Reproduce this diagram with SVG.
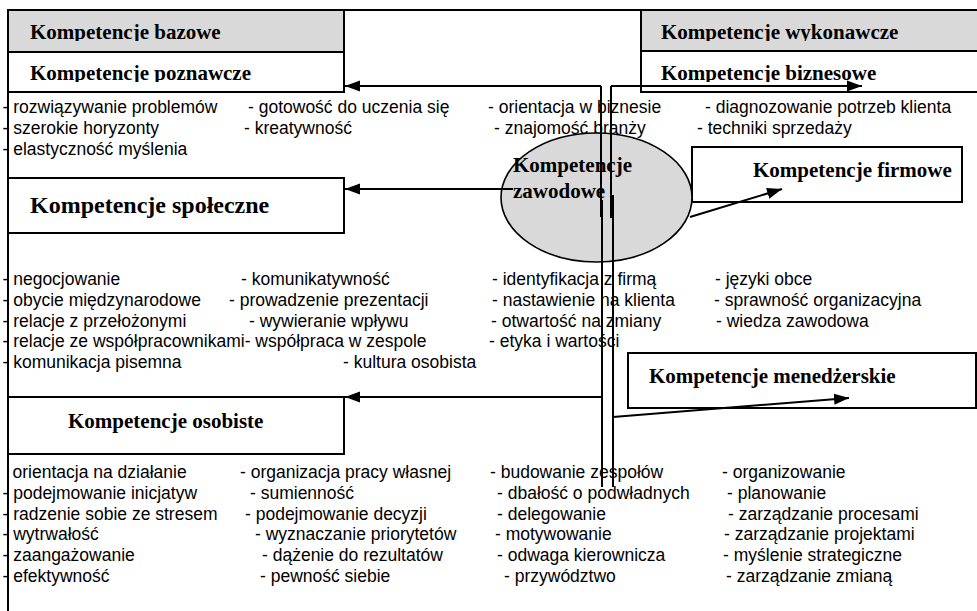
<svg xmlns="http://www.w3.org/2000/svg" width="977" height="611" viewBox="0 0 977 611">
<style>
.box{fill:#fff;stroke:#000;stroke-width:2}
.hdr{fill:#d9d9d9;stroke:#000;stroke-width:2}
.oval{fill:#d9d9d9;stroke:#000;stroke-width:1.6}
.t{font-family:"Liberation Serif","Times New Roman",serif;font-weight:bold;font-size:21px;fill:#000}
.big{font-size:24px}
.l{font-family:"Liberation Sans",Arial,sans-serif;font-size:17.5px;fill:#000}
.c{stroke:#000;stroke-width:2;fill:none}
.frame{stroke:#000;stroke-width:2;fill:none}
</style>
<defs>
<marker id="ah" markerWidth="16" markerHeight="12" refX="15" refY="6" orient="auto" markerUnits="userSpaceOnUse">
<path d="M0,0.5 L15,6 L0,11.5 z" fill="#000"/>
</marker>
<clipPath id="clipRow1"><rect x="0" y="10" width="977" height="31"/></clipPath>
<clipPath id="clipRow2"><rect x="0" y="52" width="977" height="30"/></clipPath>
</defs>
<rect width="977" height="611" fill="#fff"/>

<!-- outer frame -->
<g id="frame">
<path class="frame" d="M8,611 V10 H977"/>
</g>

<!-- left column: base competences -->
<g id="kompetencje-bazowe">
<rect class="hdr" x="8" y="10" width="336" height="42"/>
<text class="t" x="30" y="39" clip-path="url(#clipRow1)">Kompetencje bazowe</text>
</g>
<g id="kompetencje-poznawcze">
<rect class="box" x="8" y="52" width="336" height="40"/>
<text class="t" x="30" y="80" clip-path="url(#clipRow2)">Kompetencje poznawcze</text>
</g>
<g id="kompetencje-spoleczne">
<rect class="box" x="8" y="178" width="336" height="55"/>
<text class="t big" x="30" y="213">Kompetencje społeczne</text>
</g>
<g id="kompetencje-osobiste">
<rect class="box" x="8" y="397" width="336" height="57"/>
<text class="t" x="68" y="428">Kompetencje osobiste</text>
</g>

<!-- right column: performance competences -->
<g id="kompetencje-wykonawcze">
<rect class="hdr" x="641" y="10" width="345" height="41"/>
<text class="t" x="661" y="39" clip-path="url(#clipRow1)">Kompetencje wykonawcze</text>
</g>
<g id="kompetencje-biznesowe">
<rect class="box" x="641" y="51" width="345" height="41"/>
<text class="t" x="661" y="80" clip-path="url(#clipRow2)">Kompetencje biznesowe</text>
</g>
<g id="kompetencje-firmowe">
<rect class="box" x="692" y="147" width="270" height="55"/>
<text class="t" x="753" y="177">Kompetencje firmowe</text>
</g>
<g id="kompetencje-menedzerskie">
<rect class="box" x="628" y="353" width="348" height="55"/>
<text class="t" x="649" y="383">Kompetencje menedżerskie</text>
</g>

<!-- skill lists -->
<g id="lista-poznawcze" class="l">
<text x="2.5" y="112.5">- rozwiązywanie problemów</text>
<text x="248" y="112.5">- gotowość do uczenia się</text>
<text x="2.5" y="133.5">- szerokie horyzonty</text>
<text x="244" y="133.5">- kreatywność</text>
<text x="2.5" y="155">- elastyczność myślenia</text>
</g>
<g id="lista-biznesowe" class="l">
<text x="488" y="112.5">- orientacja w biznesie</text>
<text x="705" y="112.5">- diagnozowanie potrzeb klienta</text>
<text x="494" y="133.5">- znajomość branży</text>
<text x="697" y="133.5">- techniki sprzedaży</text>
</g>
<g id="lista-spoleczne" class="l">
<text x="2.5" y="285">- negocjowanie</text>
<text x="241" y="285">- komunikatywność</text>
<text x="2.5" y="306">- obycie międzynarodowe</text>
<text x="229" y="306">- prowadzenie prezentacji</text>
<text x="2.5" y="326.5">- relacje z przełożonymi</text>
<text x="249" y="326.5">- wywieranie wpływu</text>
<text x="2.5" y="347">- relacje ze współpracownikami- współpraca w zespole</text>
<text x="2.5" y="368">- komunikacja pisemna</text>
<text x="343" y="368">- kultura osobista</text>
</g>
<g id="lista-firmowe" class="l">
<text x="492" y="285">- identyfikacja z firmą</text>
<text x="715" y="285">- języki obce</text>
<text x="492" y="306">- nastawienie na klienta</text>
<text x="714" y="306">- sprawność organizacyjna</text>
<text x="491" y="326.5">- otwartość na zmiany</text>
<text x="716" y="326.5">- wiedza zawodowa</text>
<text x="489" y="347">- etyka i wartości</text>
</g>
<g id="lista-osobiste" class="l">
<text x="12.5" y="477.5">orientacja na działanie</text>
<text x="240" y="477.5">- organizacja pracy własnej</text>
<text x="2.5" y="498.5">- podejmowanie inicjatyw</text>
<text x="250" y="498.5">- sumienność</text>
<text x="2.5" y="519.5">- radzenie sobie ze stresem</text>
<text x="245" y="519.5">- podejmowanie decyzji</text>
<text x="2.5" y="540">- wytrwałość</text>
<text x="255" y="540">- wyznaczanie priorytetów</text>
<text x="2.5" y="560.5">- zaangażowanie</text>
<text x="262" y="560.5">- dążenie do rezultatów</text>
<text x="2.5" y="581.5">- efektywność</text>
<text x="260" y="581.5">- pewność siebie</text>
</g>
<g id="lista-menedzerskie" class="l">
<text x="490" y="477.5">- budowanie zespołów</text>
<text x="722" y="477.5">- organizowanie</text>
<text x="497" y="498.5">- dbałość o podwładnych</text>
<text x="727" y="498.5">- planowanie</text>
<text x="497" y="519.5">- delegowanie</text>
<text x="728" y="519.5">- zarządzanie procesami</text>
<text x="495" y="540">- motywowanie</text>
<text x="724" y="540">- zarządzanie projektami</text>
<text x="497" y="560.5">- odwaga kierownicza</text>
<text x="723" y="560.5">- myślenie strategiczne</text>
<text x="504" y="581.5">- przywództwo</text>
<text x="726" y="581.5">- zarządzanie zmianą</text>
</g>

<!-- central node -->
<g id="kompetencje-zawodowe">
<ellipse class="oval" cx="596.5" cy="197.5" rx="95.5" ry="64.5"/>
<text class="t" x="513" y="172">Kompetencje</text>
<text class="t" x="513" y="198">zawodowe</text>
</g>

<!-- connectors -->
<g id="connectors">
<path class="c" d="M601,86 H345" marker-end="url(#ah)"/>
<path class="c" d="M611,86 H862" marker-end="url(#ah)"/>
<path class="c" d="M513,189 H345" marker-end="url(#ah)"/>
<path class="c" d="M601,397 H345" marker-end="url(#ah)"/>
<path class="c" d="M690,217 L782,189" marker-end="url(#ah)"/>
<path class="c" d="M613,417 L849,398" marker-end="url(#ah)"/>
<path class="c" d="M601,86 V217"/>
<path class="c" d="M602,200 V487"/>
<path class="c" d="M611,86 V218"/>
<path class="c" d="M613,195 V487"/>
</g>
</svg>
